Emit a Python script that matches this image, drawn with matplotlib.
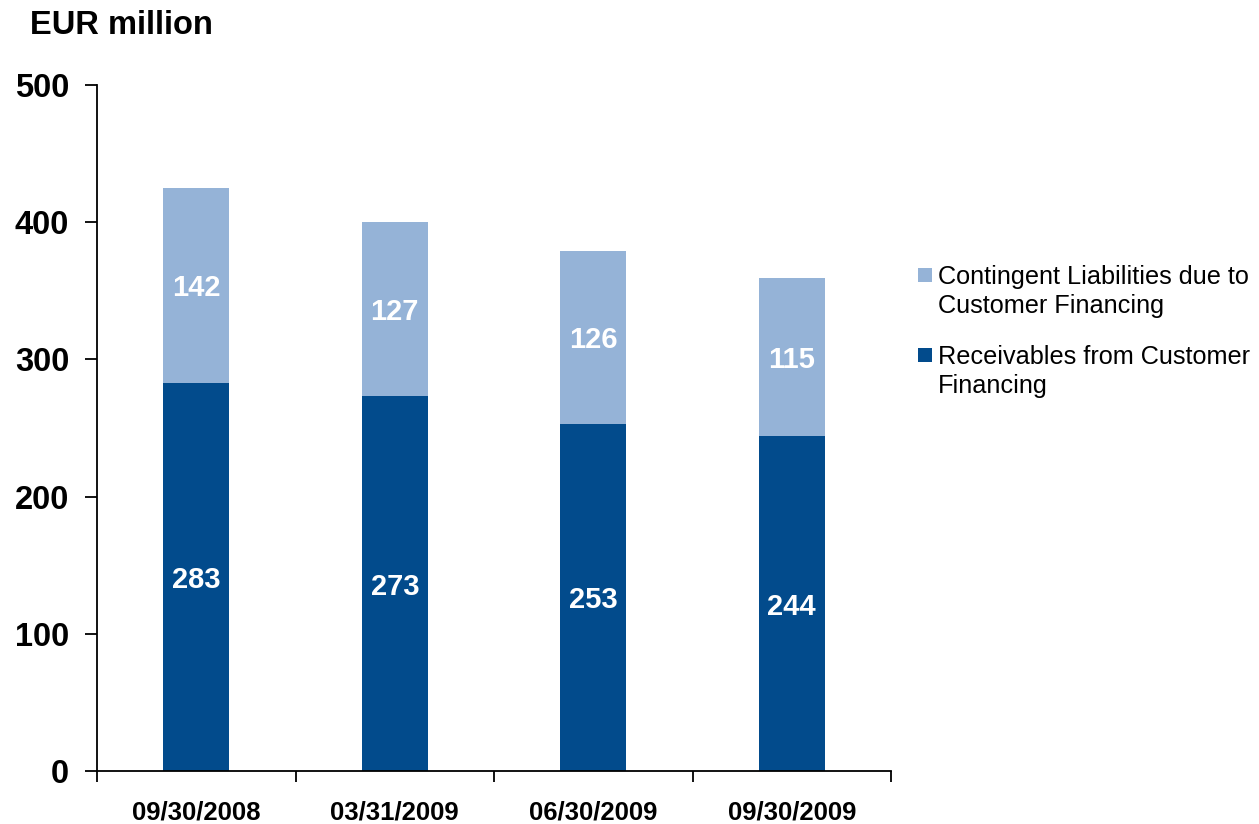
import matplotlib
matplotlib.use("Agg")
import matplotlib.pyplot as plt
from matplotlib.patches import Rectangle
import numpy as np

plt.rcParams['font.family'] = ['Liberation Sans', 'DejaVu Sans']

categories = ["09/30/2008", "03/31/2009", "06/30/2009", "09/30/2009"]
receivables = [283, 273, 253, 244]
contingent = [142, 127, 126, 115]
series_names = ["Contingent Liabilities due to\nCustomer Financing",
                "Receivables from Customer\nFinancing"]
y_ticks = [0, 100, 200, 300, 400, 500]

dark = "#024B8C"
light = "#95B3D7"

W, H = 1259, 824
fig = plt.figure(figsize=(W / 100, H / 100), dpi=100)
ax = fig.add_axes([97 / W, 1 - 771 / H, (891 - 97) / W, (771 - 85) / H])

x = np.arange(len(categories))
width = 0.335
b1 = ax.bar(x, receivables, width, color=dark, edgecolor="none")
b2 = ax.bar(x, contingent, width, bottom=receivables, color=light, edgecolor="none")

for vals, bottoms in ((receivables, [0] * 4), (contingent, receivables)):
    for xi, v, b in zip(x, vals, bottoms):
        ax.text(xi, b + v / 2, str(v), ha="center", va="center_baseline",
                color="white", fontsize=21, fontweight="bold")

ax.set_xlim(-0.5, len(categories) - 0.5)
ax.set_ylim(0, 500)
ax.set_yticks(y_ticks)
ax.set_yticklabels([str(t) for t in y_ticks], fontsize=23.5, fontweight="bold")
ax.tick_params(axis="y", direction="out", length=9, width=1.3, pad=11)

ax.set_xticks(x)
ax.set_xticklabels(categories, fontsize=18.5, fontweight="bold")
ax.set_xticks(np.arange(-0.5, len(categories)), minor=True)
ax.tick_params(axis="x", which="major", length=0, pad=21)
ax.tick_params(axis="x", which="minor", direction="out", length=8, width=1.3)

for s in ("top", "right"):
    ax.spines[s].set_visible(False)
for s in ("left", "bottom"):
    ax.spines[s].set_linewidth(1.3)

fig.text(30 / W, 1 - 25 / H, "EUR million", fontsize=23.5, fontweight="bold",
         ha="left", va="center")

# legend drawn as squares with two-line labels
legend_items = [(series_names[0], light, 275), (series_names[1], dark, 355)]
for label, color, ymid in legend_items:
    fig.add_artist(Rectangle((918 / W, 1 - (ymid + 7) / H), 14 / W, 14 / H,
                             transform=fig.transFigure, facecolor=color,
                             edgecolor="none"))
    fig.text(938 / W, 1 - (ymid - 10) / H, label, fontsize=18.2, ha="left", va="top",
             linespacing=1.25, transform=fig.transFigure)

fig.savefig("out.png", dpi=100)
